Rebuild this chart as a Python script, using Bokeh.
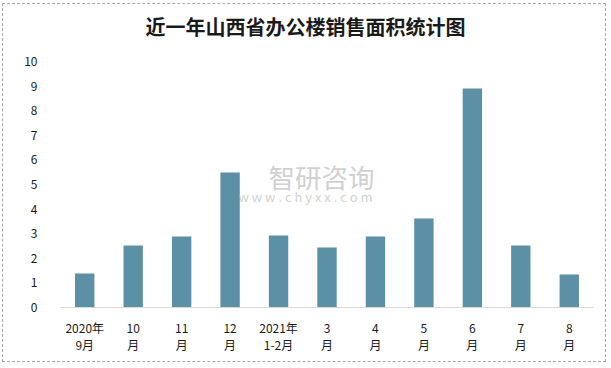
from bokeh.plotting import figure
from bokeh.models import Label, FactorRange, Range1d, FixedTicker
from bokeh.embed import file_html
from bokeh.resources import INLINE

title_text = "近一年山西省办公楼销售面积统计图"
categories = ["2020年\n9月", "10\n月", "11\n月", "12\n月", "2021年\n1-2月",
              "3\n月", "4\n月", "5\n月", "6\n月", "7\n月", "8\n月"]
values = [1.38, 2.52, 2.89, 5.49, 2.93, 2.44, 2.89, 3.62, 8.90, 2.52, 1.34]
y_ticks = [0, 1, 2, 3, 4, 5, 6, 7, 8, 9, 10]
watermark_cn = "智研咨询"
watermark_url = "w w w . c h y x x . c o m"

FONT = "Noto Sans CJK SC"

# frame extends to the top of the canvas so the title can sit inside it;
# value 10 stays 246px above the baseline
FRAME_H = 299
Y_MAX = 10 * FRAME_H / 246

p = figure(x_range=FactorRange(factors=categories), y_range=Range1d(0, Y_MAX),
           width=604, height=359, output_backend="svg", toolbar_location=None,
           min_border_left=57, min_border_right=14, min_border_top=4,
           min_border_bottom=56, title=None)
p.outline_line_color = None
p.grid.grid_line_color = None
p.background_fill_color = "white"
p.border_fill_color = "white"
p.styles = {"border": "1px dashed #A6A6A6", "margin-left": "2px", "margin-top": "3px"}

p.vbar(x=categories, top=values, width=0.4, color="#5B90A6", line_color=None)

ya = p.yaxis[0]
ya.ticker = FixedTicker(ticks=y_ticks)
ya.axis_line_color = None
ya.major_tick_line_color = None
ya.minor_tick_line_color = None
ya.major_label_standoff = 17
ya.major_label_text_font = FONT
ya.major_label_text_font_size = "12px"
ya.major_label_text_color = "#1a1a1a"

xa = p.xaxis[0]
xa.axis_line_color = "#D9D9D9"
xa.axis_line_width = 1
xa.major_tick_line_color = None
xa.minor_tick_line_color = None
xa.major_label_standoff = 5
xa.major_label_text_font = FONT
xa.major_label_text_font_size = "12px"
xa.major_label_text_color = "#1a1a1a"
xa.major_label_text_line_height = 1.03

p.add_layout(Label(x=245, y=281, x_units="screen", y_units="screen", text=title_text,
                   text_font=FONT, text_font_size="20px", text_font_style="bold",
                   text_align="center", text_baseline="middle", text_color="#1a1a1a"))

p.add_layout(Label(x=261, y=131, x_units="screen", y_units="screen", text=watermark_cn,
                   text_font=FONT, text_font_size="26.5px", text_align="center",
                   text_baseline="middle", text_color="#BBBBBB", text_alpha=0.7))
p.add_layout(Label(x=245, y=111, x_units="screen", y_units="screen", text=watermark_url,
                   text_font=FONT, text_font_size="13px", text_align="center",
                   text_baseline="middle", text_color="#BBBBBB", text_alpha=0.7))

open("out.html", "w").write(file_html(p, INLINE))
